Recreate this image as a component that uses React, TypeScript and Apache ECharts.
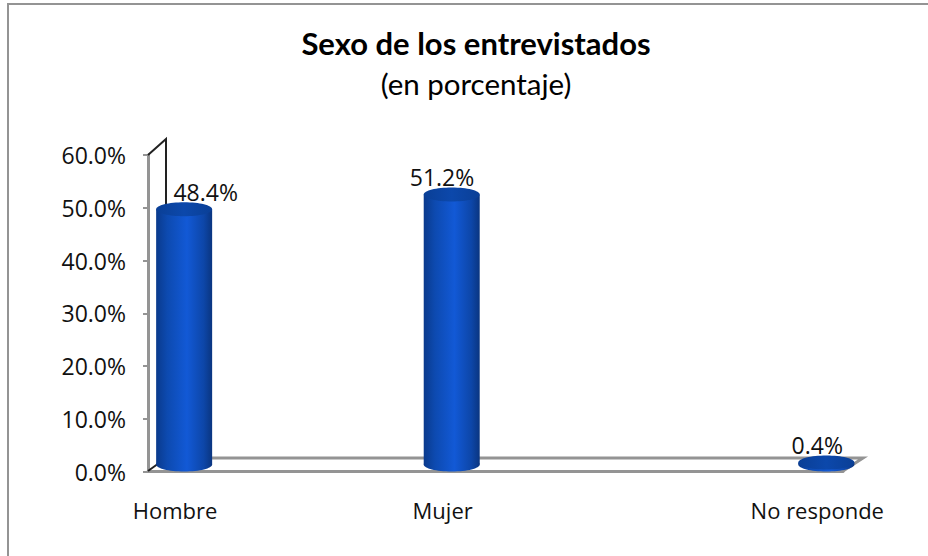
import React, { useEffect, useRef } from "react";
import * as echarts from "echarts";

const categories = ["Hombre", "Mujer", "No responde"];
const values = [48.4, 51.2, 0.4];
// horizontal placement on a 0-100 axis (the reference spaces its categories unevenly)
const barPositions = [5.2, 43.7, 97.6];
const labelPositions = [3.9, 42.4, 96.3];
const valueLabelPositions = [8.3, 42.3, 96.3];
const yTicks = [0, 10, 20, 30, 40, 50, 60];
const titleText = "Sexo de los entrevistados";
const subtitleText = "(en porcentaje)";

const TITLE_FONT = "Lato";
const FONT = "Open Sans";
const LINE = "#949494";

export default function App() {
  const ref = useRef<HTMLDivElement>(null);
  useEffect(() => {
    const chart = echarts.init(ref.current!, null, { renderer: "svg" });
    const bodyFill = new echarts.graphic.LinearGradient(0, 0, 1, 0, [
      { offset: 0, color: "#0a3a8c" },
      { offset: 0.2, color: "#0d4ab0" },
      { offset: 0.55, color: "#1259d6" },
      { offset: 0.85, color: "#0d46a8" },
      { offset: 1, color: "#0a3580" },
    ]);
    const topFill = new echarts.graphic.LinearGradient(0, 0, 1, 0, [
      { offset: 0, color: "#0a3f96" },
      { offset: 0.5, color: "#0c48ab" },
      { offset: 1, color: "#0a3f96" },
    ]);
    chart.setOption({
      animation: false,
      backgroundColor: "#fff",
      textStyle: { fontFamily: FONT },
      title: {
        text: titleText,
        subtext: subtitleText,
        left: 471,
        top: 22,
        textAlign: "center",
        itemGap: 10,
        textStyle: { fontFamily: TITLE_FONT, fontSize: 31, fontWeight: "bold", color: "#000" },
        subtextStyle: { fontFamily: TITLE_FONT, fontSize: 29.5, color: "#000" },
      },
      grid: { left: 148, right: 85, top: 155, bottom: 84.5 },
      xAxis: {
        type: "value",
        min: 0,
        max: 100,
        splitLine: { show: false },
        axisLine: { show: true, lineStyle: { color: LINE, width: 3 } },
        axisTick: { show: false },
        axisLabel: {
          show: true,
          customValues: labelPositions,
          margin: 27,
          fontFamily: FONT,
          fontSize: 22,
          color: "#111",
          formatter: (v: number) => categories[labelPositions.indexOf(v)] ?? "",
        },
      },
      yAxis: {
        type: "value",
        min: 0,
        max: 60,
        interval: 10,
        splitLine: { show: false },
        axisLine: { show: true, lineStyle: { color: LINE, width: 3 } },
        axisTick: { show: true, length: 5, inside: false, lineStyle: { color: LINE, width: 2 } },
        axisLabel: {
          margin: 22,
          fontFamily: FONT,
          fontSize: 23,
          color: "#111",
          formatter: (v: number) => (yTicks.includes(v) ? v.toFixed(1) + "%" : ""),
        },
      },
      graphic: [
        { type: "polyline", z: -1, shape: { points: [[8, 556], [8, 4], [928, 4]] }, style: { fill: "none", stroke: LINE, lineWidth: 2 } },
        { type: "polyline", z: 1, shape: { points: [[166, 458], [863, 458], [843, 471]] }, style: { fill: "none", stroke: LINE, lineWidth: 3 } },
        { type: "polyline", z: 1, shape: { points: [[148, 155], [166, 139], [166, 206]] }, style: { fill: "none", stroke: "#222", lineWidth: 2 } },
        { type: "line", z: 1, shape: { x1: 148, y1: 471, x2: 166, y2: 458 }, style: { stroke: "#222", lineWidth: 2 } },
      ],
      series: [
        {
          type: "custom",
          coordinateSystem: "cartesian2d",
          data: values.map((v, i) => [barPositions[i], v, valueLabelPositions[i]]),
          z: 5,
          renderItem: (_p: any, api: any) => {
            const c = api.coord([api.value(0), api.value(1)]);
            const base = api.coord([api.value(0), 0]);
            const labelAt = api.coord([api.value(2), api.value(1)]);
            const lift = 7;
            const rx = 28;
            const ry = 7;
            const topY = c[1] - lift;
            const botY = base[1] - lift;
            return {
              type: "group",
              children: [
                { type: "ellipse", shape: { cx: c[0], cy: botY, rx, ry }, style: { fill: bodyFill } },
                { type: "rect", shape: { x: c[0] - rx, y: topY, width: rx * 2, height: botY - topY }, style: { fill: bodyFill } },
                { type: "ellipse", shape: { cx: c[0], cy: topY, rx, ry }, style: { fill: topFill } },
                {
                  type: "text",
                  x: labelAt[0],
                  y: labelAt[1] - 24,
                  style: {
                    text: api.value(1).toFixed(1) + "%",
                    fontFamily: FONT,
                    fontSize: 23,
                    fill: "#111",
                    align: "center",
                    verticalAlign: "middle",
                  },
                },
              ],
            };
          },
          encode: { x: 0, y: 1 },
        },
      ],
    });
    return () => chart.dispose();
  }, []);
  return <div ref={ref} style={{ position: "fixed", left: 0, top: 0, width: 928, height: 556 }} />;
}
